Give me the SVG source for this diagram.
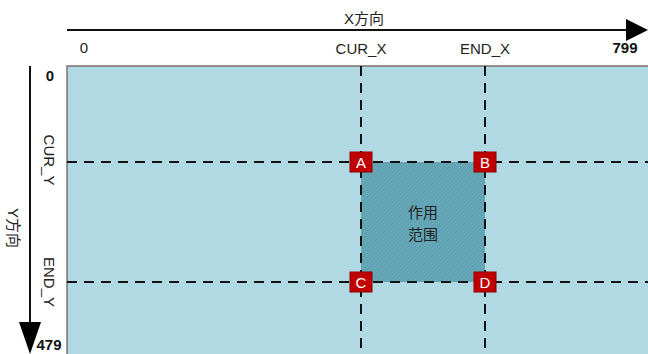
<svg xmlns="http://www.w3.org/2000/svg" width="648" height="354" viewBox="0 0 648 354">
<style>
.t{font-family:"Liberation Sans","Noto Sans CJK SC",sans-serif;font-size:15px;fill:#222}
.b{font-weight:bold;fill:#111}
.dash{stroke:#111;stroke-width:2;stroke-dasharray:10,7;fill:none}
.corner rect{fill:#c00000;stroke:#8b0000;stroke-width:1}
.corner text{font-family:"Liberation Sans",sans-serif;font-size:15px;fill:#fff;text-anchor:middle}
</style>
<defs>
<pattern id="hatch" width="3" height="3" patternUnits="userSpaceOnUse" patternTransform="rotate(45)">
<rect width="3" height="3" fill="#65a8b8"/>
<line x1="0" y1="0" x2="0" y2="3" stroke="#5896a6" stroke-width="1"/>
</pattern>
</defs>
<g id="canvas">
<rect x="67" y="66" width="590" height="300" fill="#b0d9e3" stroke="#7d726c" stroke-width="1.5"/>
</g>
<g id="region">
<rect x="361" y="162" width="124" height="120" fill="url(#hatch)"/>
<text class="t" x="423" y="218" text-anchor="middle">作用</text>
<text class="t" x="423" y="240" text-anchor="middle">范围</text>
</g>
<g id="connectors">
<line class="dash" x1="361" y1="66" x2="361" y2="354"/>
<line class="dash" x1="485" y1="66" x2="485" y2="354"/>
<line class="dash" x1="67" y1="162" x2="648" y2="162"/>
<line class="dash" x1="67" y1="282" x2="648" y2="282"/>
<line x1="67" y1="30" x2="628" y2="30" stroke="#111" stroke-width="2"/>
<polygon points="626,19 648,30 626,41" fill="#000"/>
<line x1="30" y1="66" x2="30" y2="325" stroke="#111" stroke-width="2"/>
<polygon points="19,322 41,322 30,354" fill="#000"/>
</g>
<g id="xaxis">
<text class="t" x="364" y="24" text-anchor="middle">X方向</text>
<text class="t" x="84" y="53" text-anchor="middle">0</text>
<text class="t" x="361" y="54" text-anchor="middle">CUR_X</text>
<text class="t" x="485" y="54" text-anchor="middle">END_X</text>
<text class="t b" x="625" y="53" text-anchor="middle">799</text>
</g>
<g id="yaxis">
<text class="t" transform="translate(8,228) rotate(90)" text-anchor="middle">Y方向</text>
<text class="t b" x="50" y="81" text-anchor="middle">0</text>
<text class="t" transform="translate(44,160) rotate(90)" text-anchor="middle">CUR_Y</text>
<text class="t" transform="translate(44,282) rotate(90)" text-anchor="middle">END_Y</text>
<text class="t b" x="49" y="350" text-anchor="middle">479</text>
</g>
<g id="A" class="corner"><rect x="350" y="152" width="22" height="20"/><text x="361" y="167.5">A</text></g>
<g id="B" class="corner"><rect x="474" y="152" width="22" height="20"/><text x="485" y="167.5">B</text></g>
<g id="C" class="corner"><rect x="350" y="272" width="22" height="20"/><text x="361" y="287.5">C</text></g>
<g id="D" class="corner"><rect x="474" y="272" width="22" height="20"/><text x="485" y="287.5">D</text></g>
</svg>
